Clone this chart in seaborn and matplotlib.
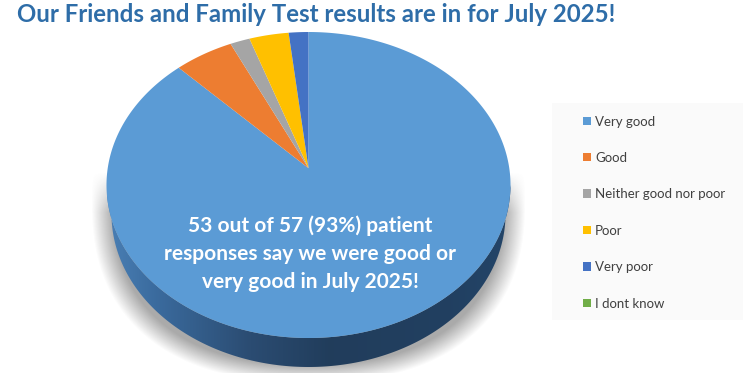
import numpy as np
import matplotlib
matplotlib.use("Agg")
import matplotlib.pyplot as plt
import seaborn as sns
from matplotlib.path import Path
from matplotlib.patches import PathPatch
from matplotlib.transforms import Transform

categories = ["Very good", "Good", "Neither good nor poor", "Poor", "Very poor", "I dont know"]
responses = [50, 3, 1, 2, 1, 0]
slice_colors = ["#5B9BD5", "#ED7D31", "#A5A5A5", "#FFC000", "#4472C4", "#70AD47"]
title_text = "Our Friends and Family Test results are in for July 2025!"
callout_lines = ["53 out of 57 (93%) patient", "responses say we were good or", "very good in July 2025!"]

W, H = 743, 373
CX, CY, RX, RY = 308.5, 185.0, 202.0, 153.0
TILT = 0.11

sns.set_theme(style="white")
plt.rcParams['font.family'] = ['Lato', 'DejaVu Sans']
fig = plt.figure(figsize=(W / 100, H / 100), dpi=100, facecolor="white")
ax = fig.add_axes([0, 0, 1, 1])


class Tilt(Transform):
    """Perspective view of the unit pie onto pixel coordinates."""
    input_dims = output_dims = 2
    has_inverse = False
    is_affine = False

    def transform_non_affine(self, v):
        v = np.asarray(v, float)
        den = 1 + TILT * v[:, 1]
        k = RX * np.sqrt(1 - TILT ** 2)
        return np.column_stack([CX + k * v[:, 0] / den,
                                CY - RY * (v[:, 1] + TILT) / den])

    def transform_path_non_affine(self, path):
        pts = []
        for curve, code in path.iter_bezier():
            if code == Path.MOVETO:
                pts.append(curve(np.array([0.0])))
            else:
                pts.append(curve(np.linspace(0, 1, 40)[1:]))
        return Path(self.transform_non_affine(np.vstack(pts)))


# soft shadow behind the disc
yy, xx = np.mgrid[0:H, 0:W]
p = 2.4
dist = (np.abs((xx - 308) / 217.0) ** p + np.abs((yy - 200) / 182.0) ** p) ** (1 / p)
alpha = np.clip((1.0 - dist) / 0.10, 0, 1) * np.clip((yy - 172) / 40.0, 0, 1) * 0.6
shadow = np.zeros((H, W, 4))
shadow[..., :3] = 0.45
shadow[..., 3] = alpha
ax.imshow(shadow, extent=(0, W, H, 0), zorder=1, interpolation="bilinear", aspect="auto")

# side wall of the disc
theta = np.linspace(0, np.pi, 240)
top_xy = np.column_stack([CX + RX * np.cos(theta), CY + RY * np.sin(theta)])
low_xy = np.column_stack([CX + 197 * np.cos(theta), CY + 29 + RY * np.sin(theta)])
wall_xy = np.vstack([top_xy, low_xy[::-1]])
wall = PathPatch(Path(np.vstack([wall_xy, wall_xy[:1]]), closed=True), fc="none", ec="none", zorder=2)
ax.add_patch(wall)
stops = np.array([[0.29, 0.50, 0.71], [0.23, 0.42, 0.62], [0.17, 0.30, 0.45],
                  [0.13, 0.24, 0.36], [0.13, 0.25, 0.38], [0.14, 0.27, 0.41]])
pos = np.array([0.0, 0.12, 0.35, 0.55, 0.85, 1.0])
grad = np.stack([np.interp(np.linspace(0, 1, 400), pos, stops[:, i]) for i in range(3)], axis=1)[None, ...]
im = ax.imshow(grad, extent=(CX - RX, CX + RX, CY + RY + 32, CY - 2), zorder=2, aspect="auto")
im.set_clip_path(wall)

# pie
wedges, _ = ax.pie(responses, colors=sns.color_palette(slice_colors), startangle=90,
                   counterclock=False, radius=1.0, center=(0, 0),
                   wedgeprops={"linewidth": 0, "zorder": 3})
tilt = Tilt()
for w in wedges:
    w.set_transform(tilt + ax.transData)
ax.set_aspect("auto")
ax.set_xlim(0, W)
ax.set_ylim(H, 0)
ax.set_axis_off()

# callout
for line, y in zip(callout_lines, [226, 254, 282]):
    ax.text(310.5, y, line, color="white", fontsize=15.05, fontweight="bold",
            ha="center", va="center", zorder=5)

ax.text(17, 15, title_text, color="#2E6DA8", fontsize=17.3, fontweight="bold",
        ha="left", va="center", zorder=5)

# legend
ax.add_patch(plt.Rectangle((552, 103), 191, 217, fc="#FAFAFA", ec="none", zorder=1))
leg = ax.legend(wedges, categories, loc="upper left", bbox_to_anchor=(583 / W, 1 - 115.5 / H),
                bbox_transform=fig.transFigure, frameon=False, fontsize=9.5,
                labelspacing=1.85, handlelength=0.6, handleheight=0.6, handletextpad=0.3,
                borderpad=0, borderaxespad=0, labelcolor="#404040")
for h in leg.legend_handles:
    h.set_linewidth(0)

fig.savefig("out.png", dpi=100, facecolor="white")
